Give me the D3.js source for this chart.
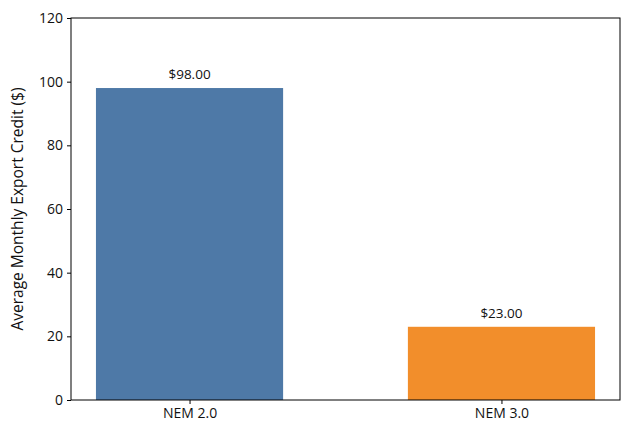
<!DOCTYPE html>
<html>
<head>
<meta charset="utf-8">
<script src="https://cdn.jsdelivr.net/npm/d3@7"></script>
<style>
  body { margin: 0; background: #fff; }
  text { font-family: "Open Sans", "Lato", sans-serif; fill: #111; }
</style>
</head>
<body>
<script>
// chart data
const categories = ["NEM 2.0", "NEM 3.0"];
const credits = [98, 23];
const barColors = ["#4e79a7", "#f28e2b"];
const yTicks = [0, 20, 40, 60, 80, 100, 120];

const width = 630, height = 432;
const margin = {top: 18, right: 10, bottom: 32, left: 71};
const innerW = width - margin.left - margin.right;
const innerH = height - margin.top - margin.bottom;

const svg = d3.select("body").append("svg")
    .attr("width", width)
    .attr("height", height);

const g = svg.append("g")
    .attr("transform", `translate(${margin.left}, ${margin.top})`);

// matplotlib-style numeric x axis: bars of width 0.6 at 0, 1 with 5% margins
const barW = 0.6;
const x = d3.scaleLinear()
    .domain([-0.38, 1.38])
    .range([0, innerW]);

const y = d3.scaleLinear()
    .domain([0, 120])
    .range([innerH, 0]);

g.selectAll("rect.bar")
    .data(credits)
    .join("rect")
    .attr("class", "bar")
    .attr("x", (d, i) => x(i - barW / 2))
    .attr("width", x(barW) - x(0))
    .attr("y", d => y(d))
    .attr("height", d => innerH - y(d))
    .attr("fill", (d, i) => barColors[i]);

// value labels
g.selectAll("text.val")
    .data(credits)
    .join("text")
    .attr("class", "val")
    .attr("x", (d, i) => x(i))
    .attr("y", d => y(d) - 9)
    .attr("text-anchor", "middle")
    .style("font-size", "13.5px")
    .text(d => "$" + d.toFixed(2));

// axes
const yAxis = g.append("g")
    .call(d3.axisLeft(y).tickValues(yTicks).tickSize(4).tickPadding(4));
const xAxis = g.append("g")
    .attr("transform", `translate(0, ${innerH})`)
    .call(d3.axisBottom(x).tickValues([0, 1]).tickFormat(i => categories[i]).tickSize(4).tickPadding(4));

[xAxis, yAxis].forEach(a => {
    a.select(".domain").remove();
    a.selectAll("text").style("font-size", "14px").attr("fill", "#111");
    a.selectAll("line").attr("stroke", "#000");
});

// frame
g.append("rect")
    .attr("width", innerW)
    .attr("height", innerH)
    .attr("fill", "none")
    .attr("stroke", "#000")
    .attr("stroke-width", 1);

svg.append("text")
    .attr("transform", `translate(23, ${margin.top + innerH / 2}) rotate(-90)`)
    .attr("text-anchor", "middle")
    .style("font-size", "15.5px")
    .text("Average Monthly Export Credit ($)");
</script>
</body>
</html>
